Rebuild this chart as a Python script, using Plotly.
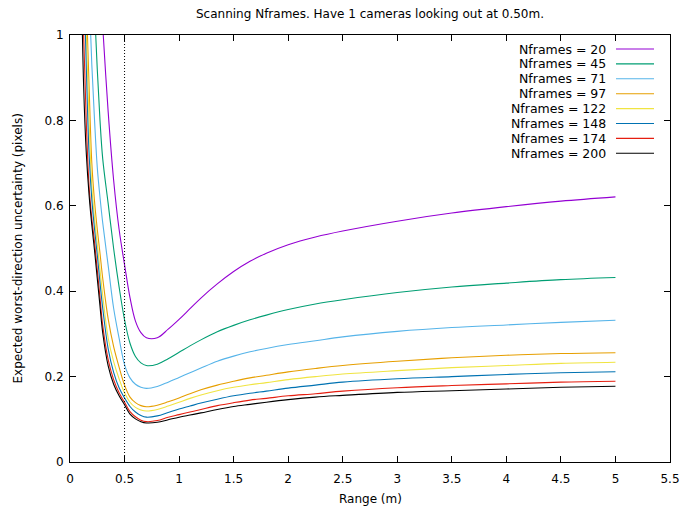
import plotly.graph_objects as go

# Range samples (m) shared by every curve
range_m = [0.10, 0.125, 0.15, 0.175, 0.2, 0.225, 0.25, 0.275, 0.3, 0.35, 0.4, 0.45,
           0.5, 0.55, 0.6, 0.65, 0.7, 0.8, 0.9, 1.0, 1.1, 1.2, 1.35, 1.5, 1.65,
           1.8, 2.0, 2.25, 2.5, 3.0, 3.5, 4.0, 4.5, 5.0]

# Expected worst-direction uncertainty (pixels) for each Nframes value.
# None = off the top of the chart, not drawn.
unc_20 = [None, None, None, None, None, None, None, 1.13, 1.02, 0.82, 0.66, 0.545,
          0.462, 0.385, 0.330, 0.303, 0.291, 0.291, 0.311, 0.334, 0.359, 0.384, 0.417, 0.446, 0.470,
          0.489, 0.509, 0.527, 0.541, 0.564, 0.583, 0.598, 0.611, 0.621]
unc_45 = [None, None, None, None, None, 1.06, 0.92, 0.80, 0.71, 0.605, 0.50, 0.41,
          0.333, 0.278, 0.247, 0.232, 0.2258, 0.229, 0.242, 0.257, 0.272, 0.286, 0.305, 0.320, 0.333,
          0.344, 0.357, 0.370, 0.380, 0.397, 0.410, 0.419, 0.427, 0.432]
unc_71 = [None, None, None, 1.10, 0.93, 0.80, 0.69, 0.62, 0.56, 0.46, 0.36, 0.29,
          0.228, 0.197, 0.182, 0.175, 0.1725, 0.177, 0.187, 0.198, 0.209, 0.220, 0.236, 0.248, 0.258,
          0.266, 0.275, 0.284, 0.293, 0.306, 0.315, 0.321, 0.327, 0.332]
unc_97 = [None, None, 1.08, 0.88, 0.70, 0.61, 0.545, 0.489, 0.43, 0.335, 0.27, 0.222,
          0.180, 0.152, 0.139, 0.132, 0.1295, 0.133, 0.141, 0.150, 0.160, 0.169, 0.180, 0.189, 0.197,
          0.203, 0.211, 0.219, 0.226, 0.236, 0.244, 0.250, 0.254, 0.256]
unc_122 = [None, 1.22, 1.00, 0.80, 0.645, 0.57, 0.51, 0.45, 0.39, 0.29, 0.235, 0.195,
           0.162, 0.140, 0.128, 0.122, 0.1195, 0.123, 0.131, 0.140, 0.149, 0.157, 0.167, 0.175, 0.181,
           0.186, 0.193, 0.200, 0.206, 0.214, 0.221, 0.226, 0.231, 0.2335]
unc_148 = [None, 1.15, 0.92, 0.72, 0.615, 0.545, 0.485, 0.42, 0.36, 0.265, 0.21, 0.174,
           0.150, 0.130, 0.117, 0.109, 0.105, 0.108, 0.116, 0.124, 0.131, 0.138, 0.147, 0.155, 0.161,
           0.166, 0.173, 0.180, 0.187, 0.195, 0.200, 0.205, 0.209, 0.2115]
unc_174 = [1.30, 1.00, 0.79, 0.645, 0.57, 0.515, 0.45, 0.385, 0.32, 0.24, 0.193, 0.162,
           0.140, 0.118, 0.106, 0.098, 0.0945, 0.097, 0.105, 0.111, 0.117, 0.123, 0.132, 0.139, 0.145,
           0.149, 0.155, 0.160, 0.166, 0.174, 0.179, 0.183, 0.187, 0.189]
unc_200 = [1.20, 0.88, 0.72, 0.625, 0.555, 0.495, 0.43, 0.365, 0.302, 0.225, 0.182, 0.155,
           0.134, 0.112, 0.101, 0.0945, 0.0915, 0.093, 0.099, 0.105, 0.110, 0.115, 0.123, 0.130, 0.135,
           0.140, 0.146, 0.152, 0.156, 0.163, 0.167, 0.171, 0.175, 0.1773]

nframes = [20, 45, 71, 97, 122, 148, 174, 200]
series = [unc_20, unc_45, unc_71, unc_97, unc_122, unc_148, unc_174, unc_200]
colors = ["#9400d3", "#009e73", "#56b4e9", "#e69f00",
          "#f0e442", "#0072b2", "#e51e10", "#000000"]

camera_distance = 0.5

x_ticks = [0, 0.5, 1, 1.5, 2, 2.5, 3, 3.5, 4, 4.5, 5, 5.5]
x_labels = ["0", "0.5", "1", "1.5", "2", "2.5", "3", "3.5", "4", "4.5", "5", "5.5"]
y_ticks = [0, 0.2, 0.4, 0.6, 0.8, 1]
y_labels = ["0", "0.2", "0.4", "0.6", "0.8", "1"]

FONT = "DejaVu Sans"
W, H = 685, 509
ml, mr, mt, mb = 70, 15, 35, 47
pw, ph = W - ml - mr, H - mt - mb

fig = go.Figure()
for n, ys, c in zip(nframes, series, colors):
    fig.add_trace(go.Scatter(
        x=range_m, y=ys, mode="lines", name=f"Nframes = {n}",
        line=dict(color=c, width=1.1, shape="spline", smoothing=1.0),
        showlegend=False,
    ))

# vertical dotted marker at the camera look-out distance
fig.add_trace(go.Scatter(
    x=[camera_distance, camera_distance], y=[0, 1], mode="lines",
    line=dict(color="black", width=1, dash="1px,2px"), showlegend=False,
))


def px_to_paper_x(px):
    return (px - ml) / pw


def px_to_paper_y(py):
    return 1 - (py - mt) / ph


# gnuplot-style key: right-aligned label with the line sample to its right
key_top = 49
key_step = 14.9
annotations = []
shapes = []
for i, (n, c) in enumerate(zip(nframes, colors)):
    yp = px_to_paper_y(key_top + i * key_step)
    annotations.append(dict(
        xref="paper", yref="paper", x=px_to_paper_x(607), y=yp,
        text=f"Nframes = {n}", showarrow=False, xanchor="right", yanchor="middle",
        font=dict(family=FONT, size=12.5, color="black"), borderpad=0,
    ))
    shapes.append(dict(
        type="line", xref="paper", yref="paper",
        x0=px_to_paper_x(616), x1=px_to_paper_x(654), y0=yp, y1=yp,
        line=dict(color=c, width=1.1),
    ))

# axis titles
annotations.append(dict(
    xref="paper", yref="paper", x=0.5, y=px_to_paper_y(499),
    text="Range (m)", showarrow=False, xanchor="center", yanchor="middle",
    font=dict(family=FONT, size=12, color="black"),
))
annotations.append(dict(
    xref="paper", yref="paper", x=px_to_paper_x(17), y=0.5,
    text="Expected worst-direction uncertainty (pixels)", showarrow=False,
    xanchor="center", yanchor="middle", textangle=-90,
    font=dict(family=FONT, size=12, color="black"),
))

axis_common = dict(
    showline=True, linecolor="black", linewidth=1, mirror="ticks",
    ticks="inside", ticklen=6, tickcolor="black", tickwidth=1,
    showgrid=False, zeroline=False, automargin=False,
    tickfont=dict(family=FONT, size=12, color="black"),
)

fig.update_layout(
    width=W, height=H,
    margin=dict(l=ml, r=mr, t=mt, b=mb, autoexpand=False),
    paper_bgcolor="white", plot_bgcolor="white",
    title=dict(
        text="Scanning Nframes. Have 1 cameras looking out at 0.50m.",
        x=(ml + pw / 2) / W, xanchor="center", y=1 - 14 / H, yanchor="middle",
        font=dict(family=FONT, size=12, color="black"),
    ),
    xaxis=dict(range=[0, 5.5], tickmode="array", tickvals=x_ticks, ticktext=x_labels,
               ticklabelstandoff=6, **axis_common),
    yaxis=dict(range=[0, 1], tickmode="array", tickvals=y_ticks, ticktext=y_labels,
               ticklabelstandoff=3, **axis_common),
    annotations=annotations,
    shapes=shapes,
)

fig.write_html("out.html")
